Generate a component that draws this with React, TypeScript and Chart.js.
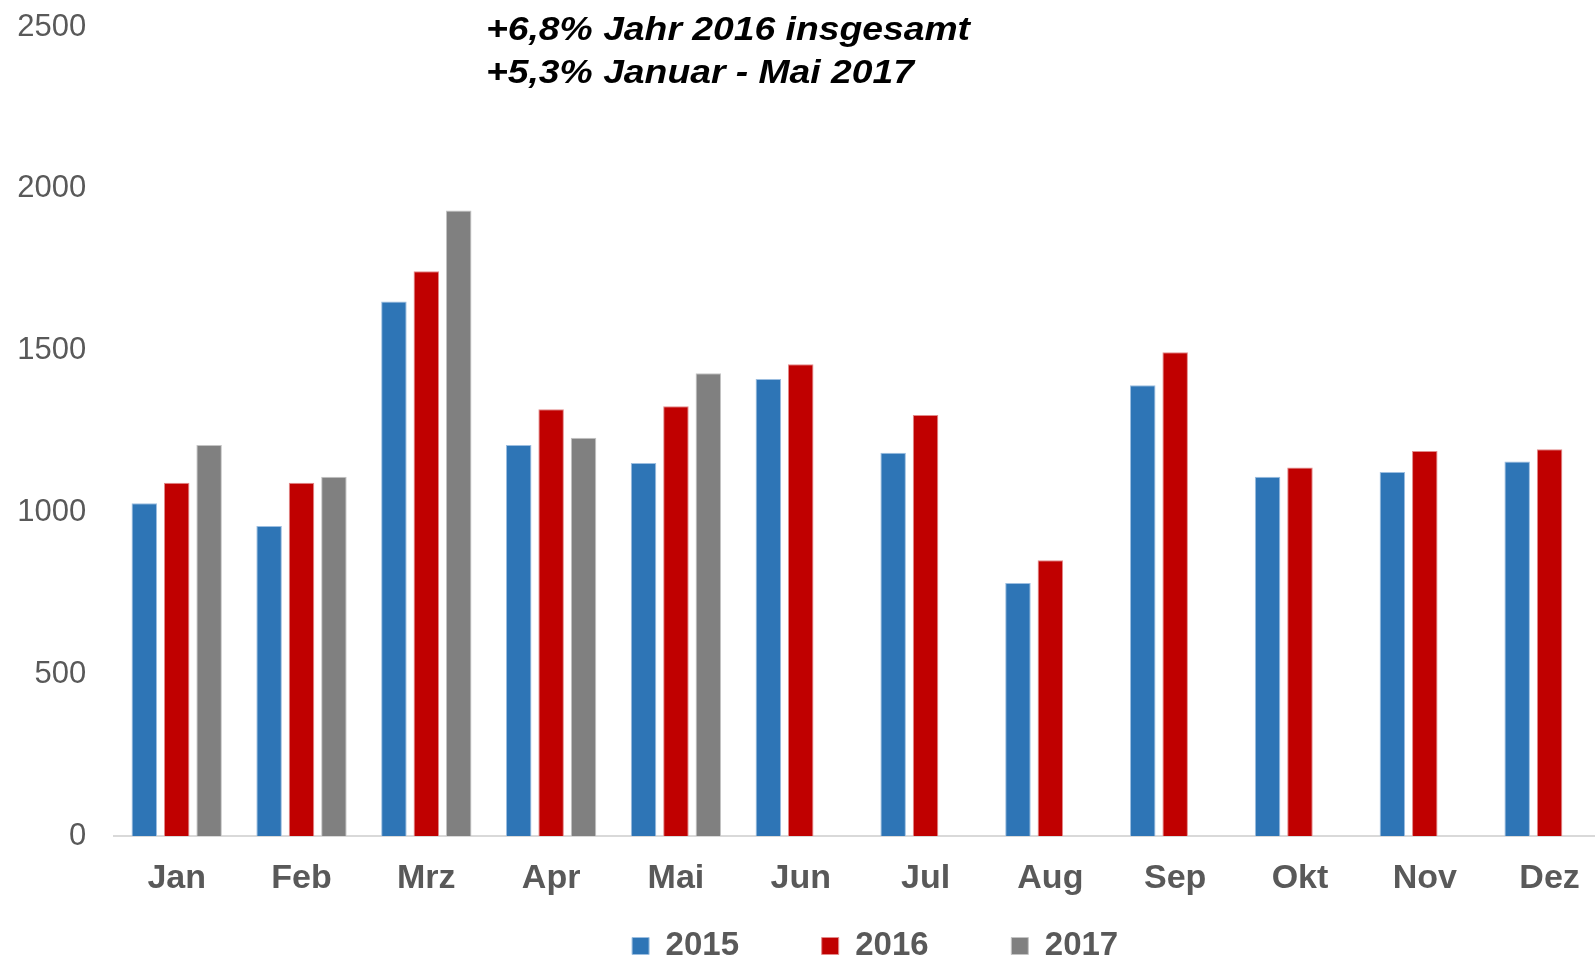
import React, { useEffect, useRef } from "react";
import { Chart, registerables } from "chart.js";

Chart.register(...registerables);

const months = ["Jan", "Feb", "Mrz", "Apr", "Mai", "Jun", "Jul", "Aug", "Sep", "Okt", "Nov", "Dez"];
const seriesLabels = ["2015", "2016", "2017"];
const values2015 = [1028, 958, 1652, 1208, 1153, 1412, 1184, 782, 1393, 1110, 1125, 1157];
const values2016 = [1092, 1092, 1745, 1319, 1328, 1458, 1301, 852, 1495, 1139, 1190, 1195];
const values2017 = [1208, 1110, 1933, 1231, 1430, null, null, null, null, null, null, null];
const yTicks = [0, 500, 1000, 1500, 2000, 2500];
const titleLines = ["+6,8% Jahr 2016 insgesamt", "+5,3% Januar - Mai 2017"];

const FAMILY = '"Liberation Sans", Arial, sans-serif';
const LEGEND_PAD = 82.7;
const LEGEND_FONT = 33;

const titlePlugin = {
  id: "overlayTitle",
  afterDraw(chart: any) {
    const ctx = chart.ctx;
    ctx.save();
    ctx.font = `italic bold 34px ${FAMILY}`;
    ctx.fillStyle = "#000000";
    ctx.textBaseline = "alphabetic";
    ctx.textAlign = "left";
    const w0 = ctx.measureText(titleLines[0]).width;
    const sx = 484 / w0;
    titleLines.forEach((line, i) => {
      ctx.save();
      ctx.translate(486, 39.5 + i * 43);
      ctx.scale(sx, 1);
      ctx.fillText(line, 0, 0);
      ctx.restore();
    });
    ctx.restore();
  },
};

const legendPlace = {
  id: "legendPlace",
  afterLayout(chart: any) {
    const l = chart.legend;
    if (l) {
      l.left += 12;
      l.right += 12;
      const dy = 946 - (l.top + LEGEND_PAD + LEGEND_FONT / 2);
      l.top += dy;
    }
  },
};

export default function App() {
  const ref = useRef<HTMLCanvasElement>(null);

  useEffect(() => {
    if (!ref.current) return;
    const chart = new Chart(ref.current, {
      type: "bar",
      data: {
        labels: months,
        datasets: [
          {
            label: seriesLabels[0],
            data: values2015,
            backgroundColor: "#2E75B6",
            borderColor: "#9CBEE0",
            borderWidth: 1,
          },
          {
            label: seriesLabels[1],
            data: values2016,
            backgroundColor: "#C00000",
            borderColor: "#E28A8A",
            borderWidth: 1,
          },
          {
            label: seriesLabels[2],
            data: values2017 as any,
            backgroundColor: "#808080",
            borderColor: "#C4C4C4",
            borderWidth: 1,
          },
        ],
      },
      options: {
        responsive: false,
        animation: false,
        devicePixelRatio: 1,
        categoryPercentage: 0.779,
        barPercentage: 0.787,
        layout: { padding: { top: 27, left: 0, right: 28, bottom: 0 } },
        scales: {
          x: {
            grid: { display: false, drawTicks: false },
            border: { display: true, color: "#D9D9D9", width: 2 },
            ticks: {
              padding: 22,
              color: "#595959",
              font: { size: 34, weight: "bold", family: FAMILY },
            },
          },
          y: {
            min: 0,
            max: 2500,
            afterBuildTicks: (s: any) => {
              s.ticks = yTicks.map((v) => ({ value: v }));
            },
            grid: { display: false, drawTicks: true, tickLength: 28 },
            border: { display: false },
            ticks: {
              padding: 0,
              color: "#595959",
              font: { size: 31, family: FAMILY },
              callback: (v: any) => String(v),
            },
            afterFit: (s: any) => {
              s.width = 114.3;
            },
          },
        },
        plugins: {
          legend: {
            position: "bottom",
            fullSize: false,
            maxHeight: 38.2,
            labels: {
              boxWidth: 17,
              boxHeight: 17,
              padding: LEGEND_PAD,
              color: "#595959",
              font: { size: LEGEND_FONT, weight: "bold", family: FAMILY },
            },
          },
          title: { display: false },
          tooltip: { enabled: false },
        },
      } as any,
      plugins: [titlePlugin, legendPlace],
    });
    return () => chart.destroy();
  }, []);

  return (
    <div
      style={{
        position: "absolute",
        left: 0,
        top: 0,
        width: 1595,
        height: 959,
        overflow: "hidden",
        background: "#ffffff",
      }}
    >
      <canvas ref={ref} width={1640} height={959} style={{ display: "block", width: 1640, height: 959 }} />
    </div>
  );
}
